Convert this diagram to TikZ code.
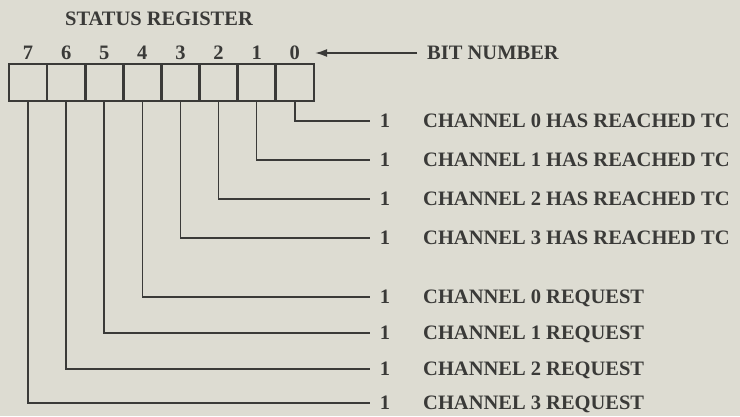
\documentclass[tikz,border=0pt]{standalone}
\usepackage{fontspec}
\setmainfont{Liberation Serif}
\usetikzlibrary{arrows.meta}
\definecolor{paper}{HTML}{DDDCD2}
\definecolor{ink}{HTML}{3A3A38}
\begin{document}
\begin{tikzpicture}[x=1pt,y=-1pt,
  txt/.style={font=\fontsize{20.5}{22}\selectfont\bfseries, text=ink, inner sep=0pt, text height=13.6pt, text depth=0pt},
  cell/.style={draw=ink, line width=2.6pt, minimum width=38.1pt, minimum height=37pt, inner sep=0pt},
  wire/.style={draw=ink, line width=1.6pt},
  one/.style={txt, inner xsep=10pt}]
\fill[paper] (0,0) rectangle (740,416);
\useasboundingbox (0,0) rectangle (740,416);
\node[txt] (title) at (159,19) {STATUS REGISTER};
\foreach \i in {0,...,7} {
  \node[cell] (c\i) at ({9+38.1*(7-\i)+19.05},82.5) {};
  \node[txt] (d\i) at ({9+38.1*(7-\i)+19.05},53) {\i};
}
\node[txt, anchor=west, inner xsep=10pt] (bitnum) at (417,53) {BIT NUMBER};
\draw[wire, -{Latex[length=12pt,width=8pt]}, shorten >=15pt] (bitnum.west) -- (d0.east);
% rows
\foreach \i/\yy/\lab in {0/121/CHANNEL 0 HAS REACHED TC,1/160/CHANNEL 1 HAS REACHED TC,2/199/CHANNEL 2 HAS REACHED TC,3/238/CHANNEL 3 HAS REACHED TC,4/297/CHANNEL 0 REQUEST,5/333/CHANNEL 1 REQUEST,6/369/CHANNEL 2 REQUEST,7/403/CHANNEL 3 REQUEST} {
  \node[one] (o\i) at (385,\yy) {1};
  \node[txt, anchor=west] (l\i) at (423,\yy) {\lab};
  \draw[wire] (c\i.south) |- (o\i.west);
}
\end{tikzpicture}
\end{document}
